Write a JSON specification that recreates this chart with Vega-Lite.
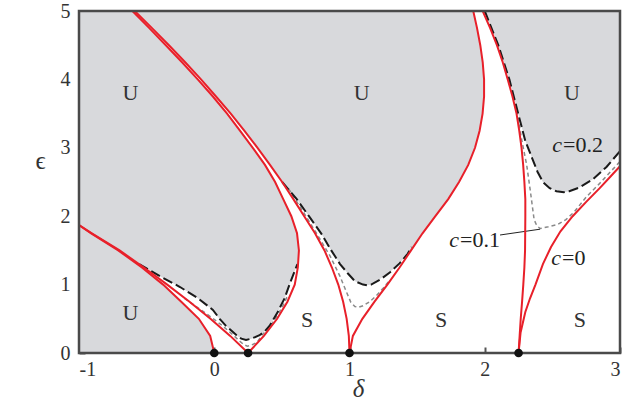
{
  "$schema": "https://vega.github.io/schema/vega-lite/v6.json",
  "width": 541,
  "height": 342,
  "autosize": "none",
  "padding": {"left": 79, "top": 11, "right": 10, "bottom": 53},
  "background": "white",
  "config": {
    "view": {"stroke": null},
    "axis": {"grid": false, "domain": false, "tickSize": -6, "tickColor": "#555", "tickWidth": 2, "zindex": 1, "labelExpr": "'' + datum.value",
      "labelFont": "Liberation Serif", "labelFontSize": 20, "labelColor": "#333",
      "titleFont": "Liberation Serif", "titleFontSize": 25, "titleFontStyle": "italic", "titleFontWeight": "normal", "titleColor": "#333"}
  },
  "datasets": {
    "frame": [{"top": 5, "bottom": 0, "left": -1, "right": 3}],
    "fill": [
      {"r": "L", "eps": 0, "lo": -1, "hi": 0},
      {"r": "L", "eps": 0.25, "lo": -1, "hi": -0.03},
      {"r": "L", "eps": 0.5, "lo": -1, "hi": -0.114},
      {"r": "L", "eps": 0.75, "lo": -1, "hi": -0.244},
      {"r": "L", "eps": 1.0, "lo": -1, "hi": -0.378},
      {"r": "L", "eps": 1.25, "lo": -1, "hi": -0.535},
      {"r": "L", "eps": 1.5, "lo": -1, "hi": -0.71},
      {"r": "L", "eps": 1.75, "lo": -1, "hi": -0.91},
      {"r": "L", "eps": 1.87, "lo": -1, "hi": -1.0},
      {"r": "T1", "eps": 0.19, "lo": 0.235, "hi": 0.235},
      {"r": "T1", "eps": 0.21, "lo": 0.2, "hi": 0.275},
      {"r": "T1", "eps": 0.26, "lo": 0.165, "hi": 0.335},
      {"r": "T1", "eps": 0.32, "lo": 0.13, "hi": 0.375},
      {"r": "T1", "eps": 0.4, "lo": 0.085, "hi": 0.41},
      {"r": "T1", "eps": 0.5, "lo": 0.04, "hi": 0.44},
      {"r": "T1", "eps": 0.58, "lo": 0.0, "hi": 0.464},
      {"r": "T1", "eps": 0.63, "lo": -0.01, "hi": 0.477},
      {"r": "T1", "eps": 0.8, "lo": -0.12, "hi": 0.52},
      {"r": "T1", "eps": 0.965, "lo": -0.253, "hi": 0.553},
      {"r": "T1", "eps": 1.02, "lo": -0.305, "hi": 0.56},
      {"r": "T1", "eps": 1.12, "lo": -0.4, "hi": 0.58},
      {"r": "T1", "eps": 1.21, "lo": -0.477, "hi": 0.597},
      {"r": "T1", "eps": 1.3, "lo": -0.555, "hi": 0.615},
      {"r": "T1", "eps": 1.5, "lo": -0.7, "hi": 0.626},
      {"r": "T1", "eps": 1.75, "lo": -0.905, "hi": 0.612},
      {"r": "T1", "eps": 1.87, "lo": -1.0, "hi": 0.59},
      {"r": "T1", "eps": 2.0, "lo": -1.0, "hi": 0.57},
      {"r": "T1", "eps": 2.25, "lo": -1.0, "hi": 0.51},
      {"r": "T1", "eps": 2.5, "lo": -1.0, "hi": 0.45},
      {"r": "T1", "eps": 2.75, "lo": -1.0, "hi": 0.375},
      {"r": "T1", "eps": 3.0, "lo": -1.0, "hi": 0.285},
      {"r": "T1", "eps": 3.25, "lo": -1.0, "hi": 0.19},
      {"r": "T1", "eps": 3.5, "lo": -1.0, "hi": 0.095},
      {"r": "T1", "eps": 3.75, "lo": -1.0, "hi": -0.01},
      {"r": "T1", "eps": 4.0, "lo": -1.0, "hi": -0.122},
      {"r": "T1", "eps": 4.25, "lo": -1.0, "hi": -0.238},
      {"r": "T1", "eps": 4.5, "lo": -1.0, "hi": -0.358},
      {"r": "T1", "eps": 4.75, "lo": -1.0, "hi": -0.48},
      {"r": "T1", "eps": 5.0, "lo": -1.0, "hi": -0.605},
      {"r": "T2", "eps": 0.99, "lo": 1.13, "hi": 1.13},
      {"r": "T2", "eps": 1.0, "lo": 1.1, "hi": 1.16},
      {"r": "T2", "eps": 1.05, "lo": 1.04, "hi": 1.2},
      {"r": "T2", "eps": 1.17, "lo": 0.985, "hi": 1.29},
      {"r": "T2", "eps": 1.3, "lo": 0.93, "hi": 1.365},
      {"r": "T2", "eps": 1.45, "lo": 0.88, "hi": 1.43},
      {"r": "T2", "eps": 1.5, "lo": 0.865, "hi": 1.455},
      {"r": "T2", "eps": 1.75, "lo": 0.79, "hi": 1.54},
      {"r": "T2", "eps": 2.0, "lo": 0.7, "hi": 1.635},
      {"r": "T2", "eps": 2.25, "lo": 0.61, "hi": 1.73},
      {"r": "T2", "eps": 2.5, "lo": 0.502, "hi": 1.81},
      {"r": "T2", "eps": 2.75, "lo": 0.412, "hi": 1.878},
      {"r": "T2", "eps": 3.0, "lo": 0.32, "hi": 1.928},
      {"r": "T2", "eps": 3.25, "lo": 0.222, "hi": 1.962},
      {"r": "T2", "eps": 3.5, "lo": 0.122, "hi": 1.984},
      {"r": "T2", "eps": 3.75, "lo": 0.013, "hi": 1.995},
      {"r": "T2", "eps": 4.0, "lo": -0.098, "hi": 1.995},
      {"r": "T2", "eps": 4.25, "lo": -0.215, "hi": 1.985},
      {"r": "T2", "eps": 4.5, "lo": -0.335, "hi": 1.967},
      {"r": "T2", "eps": 4.75, "lo": -0.46, "hi": 1.943},
      {"r": "T2", "eps": 5.0, "lo": -0.588, "hi": 1.915},
      {"r": "T3", "eps": 2.35, "lo": 2.585, "hi": 2.585},
      {"r": "T3", "eps": 2.365, "lo": 2.53, "hi": 2.625},
      {"r": "T3", "eps": 2.41, "lo": 2.48, "hi": 2.69},
      {"r": "T3", "eps": 2.5, "lo": 2.43, "hi": 2.765},
      {"r": "T3", "eps": 2.54, "lo": 2.419, "hi": 2.8},
      {"r": "T3", "eps": 2.65, "lo": 2.39, "hi": 2.86},
      {"r": "T3", "eps": 2.72, "lo": 2.376, "hi": 2.9},
      {"r": "T3", "eps": 2.85, "lo": 2.35, "hi": 2.957},
      {"r": "T3", "eps": 2.95, "lo": 2.33, "hi": 3.0},
      {"r": "T3", "eps": 3.1, "lo": 2.3, "hi": 3.0},
      {"r": "T3", "eps": 3.5, "lo": 2.247, "hi": 3.0},
      {"r": "T3", "eps": 4.0, "lo": 2.182, "hi": 3.0},
      {"r": "T3", "eps": 4.5, "lo": 2.1, "hi": 3.0},
      {"r": "T3", "eps": 5.0, "lo": 2.0, "hi": 3.0}
    ],
    "curves": [
      {"k": "red", "c": "a0", "i": 0, "d": 0, "e": 0},
      {"k": "red", "c": "a0", "i": 1, "d": -0.03, "e": 0.25},
      {"k": "red", "c": "a0", "i": 2, "d": -0.114, "e": 0.5},
      {"k": "red", "c": "a0", "i": 3, "d": -0.244, "e": 0.75},
      {"k": "red", "c": "a0", "i": 4, "d": -0.378, "e": 1.0},
      {"k": "red", "c": "a0", "i": 5, "d": -0.535, "e": 1.25},
      {"k": "red", "c": "a0", "i": 6, "d": -0.71, "e": 1.5},
      {"k": "red", "c": "a0", "i": 7, "d": -0.91, "e": 1.75},
      {"k": "red", "c": "a0", "i": 8, "d": -1.0, "e": 1.87},
      {"k": "red", "c": "a0", "i": 9, "d": -1.05, "e": 1.93},
      {"k": "red", "c": "b1", "i": 0, "d": 0.25, "e": 0},
      {"k": "red", "c": "b1", "i": 1, "d": 0.118, "e": 0.25},
      {"k": "red", "c": "b1", "i": 2, "d": -0.028, "e": 0.5},
      {"k": "red", "c": "b1", "i": 3, "d": -0.183, "e": 0.75},
      {"k": "red", "c": "b1", "i": 4, "d": -0.348, "e": 1.0},
      {"k": "red", "c": "b1", "i": 5, "d": -0.52, "e": 1.25},
      {"k": "red", "c": "b1", "i": 6, "d": -0.7, "e": 1.5},
      {"k": "red", "c": "b1", "i": 7, "d": -0.905, "e": 1.75},
      {"k": "red", "c": "b1", "i": 8, "d": -1.0, "e": 1.87},
      {"k": "red", "c": "b1", "i": 9, "d": -1.05, "e": 1.93},
      {"k": "red", "c": "a1", "i": 0, "d": 0.25, "e": 0},
      {"k": "red", "c": "a1", "i": 1, "d": 0.367, "e": 0.25},
      {"k": "red", "c": "a1", "i": 2, "d": 0.465, "e": 0.5},
      {"k": "red", "c": "a1", "i": 3, "d": 0.541, "e": 0.75},
      {"k": "red", "c": "a1", "i": 4, "d": 0.595, "e": 1.0},
      {"k": "red", "c": "a1", "i": 5, "d": 0.618, "e": 1.25},
      {"k": "red", "c": "a1", "i": 6, "d": 0.626, "e": 1.5},
      {"k": "red", "c": "a1", "i": 7, "d": 0.612, "e": 1.75},
      {"k": "red", "c": "a1", "i": 8, "d": 0.57, "e": 2.0},
      {"k": "red", "c": "a1", "i": 9, "d": 0.51, "e": 2.25},
      {"k": "red", "c": "a1", "i": 10, "d": 0.45, "e": 2.5},
      {"k": "red", "c": "a1", "i": 11, "d": 0.375, "e": 2.75},
      {"k": "red", "c": "a1", "i": 12, "d": 0.285, "e": 3.0},
      {"k": "red", "c": "a1", "i": 13, "d": 0.19, "e": 3.25},
      {"k": "red", "c": "a1", "i": 14, "d": 0.095, "e": 3.5},
      {"k": "red", "c": "a1", "i": 15, "d": -0.01, "e": 3.75},
      {"k": "red", "c": "a1", "i": 16, "d": -0.122, "e": 4.0},
      {"k": "red", "c": "a1", "i": 17, "d": -0.238, "e": 4.25},
      {"k": "red", "c": "a1", "i": 18, "d": -0.358, "e": 4.5},
      {"k": "red", "c": "a1", "i": 19, "d": -0.48, "e": 4.75},
      {"k": "red", "c": "a1", "i": 20, "d": -0.605, "e": 5.0},
      {"k": "red", "c": "b2", "i": 0, "d": 1.0, "e": 0},
      {"k": "red", "c": "b2", "i": 1, "d": 0.995, "e": 0.25},
      {"k": "red", "c": "b2", "i": 2, "d": 0.979, "e": 0.5},
      {"k": "red", "c": "b2", "i": 3, "d": 0.953, "e": 0.75},
      {"k": "red", "c": "b2", "i": 4, "d": 0.917, "e": 1.0},
      {"k": "red", "c": "b2", "i": 5, "d": 0.87, "e": 1.25},
      {"k": "red", "c": "b2", "i": 6, "d": 0.815, "e": 1.5},
      {"k": "red", "c": "b2", "i": 7, "d": 0.745, "e": 1.75},
      {"k": "red", "c": "b2", "i": 8, "d": 0.665, "e": 2.0},
      {"k": "red", "c": "b2", "i": 9, "d": 0.585, "e": 2.25},
      {"k": "red", "c": "b2", "i": 10, "d": 0.502, "e": 2.5},
      {"k": "red", "c": "b2", "i": 11, "d": 0.412, "e": 2.75},
      {"k": "red", "c": "b2", "i": 12, "d": 0.32, "e": 3.0},
      {"k": "red", "c": "b2", "i": 13, "d": 0.222, "e": 3.25},
      {"k": "red", "c": "b2", "i": 14, "d": 0.122, "e": 3.5},
      {"k": "red", "c": "b2", "i": 15, "d": 0.013, "e": 3.75},
      {"k": "red", "c": "b2", "i": 16, "d": -0.098, "e": 4.0},
      {"k": "red", "c": "b2", "i": 17, "d": -0.215, "e": 4.25},
      {"k": "red", "c": "b2", "i": 18, "d": -0.335, "e": 4.5},
      {"k": "red", "c": "b2", "i": 19, "d": -0.46, "e": 4.75},
      {"k": "red", "c": "b2", "i": 20, "d": -0.588, "e": 5.0},
      {"k": "red", "c": "a2", "i": 0, "d": 1.0, "e": 0},
      {"k": "red", "c": "a2", "i": 1, "d": 1.025, "e": 0.25},
      {"k": "red", "c": "a2", "i": 2, "d": 1.095, "e": 0.5},
      {"k": "red", "c": "a2", "i": 3, "d": 1.185, "e": 0.75},
      {"k": "red", "c": "a2", "i": 4, "d": 1.28, "e": 1.0},
      {"k": "red", "c": "a2", "i": 5, "d": 1.37, "e": 1.25},
      {"k": "red", "c": "a2", "i": 6, "d": 1.455, "e": 1.5},
      {"k": "red", "c": "a2", "i": 7, "d": 1.54, "e": 1.75},
      {"k": "red", "c": "a2", "i": 8, "d": 1.635, "e": 2.0},
      {"k": "red", "c": "a2", "i": 9, "d": 1.73, "e": 2.25},
      {"k": "red", "c": "a2", "i": 10, "d": 1.81, "e": 2.5},
      {"k": "red", "c": "a2", "i": 11, "d": 1.878, "e": 2.75},
      {"k": "red", "c": "a2", "i": 12, "d": 1.928, "e": 3.0},
      {"k": "red", "c": "a2", "i": 13, "d": 1.962, "e": 3.25},
      {"k": "red", "c": "a2", "i": 14, "d": 1.984, "e": 3.5},
      {"k": "red", "c": "a2", "i": 15, "d": 1.995, "e": 3.75},
      {"k": "red", "c": "a2", "i": 16, "d": 1.995, "e": 4.0},
      {"k": "red", "c": "a2", "i": 17, "d": 1.985, "e": 4.25},
      {"k": "red", "c": "a2", "i": 18, "d": 1.967, "e": 4.5},
      {"k": "red", "c": "a2", "i": 19, "d": 1.943, "e": 4.75},
      {"k": "red", "c": "a2", "i": 20, "d": 1.915, "e": 5.0},
      {"k": "red", "c": "b3", "i": 0, "d": 2.25, "e": 0},
      {"k": "red", "c": "b3", "i": 1, "d": 2.258, "e": 0.25},
      {"k": "red", "c": "b3", "i": 2, "d": 2.266, "e": 0.5},
      {"k": "red", "c": "b3", "i": 3, "d": 2.276, "e": 0.75},
      {"k": "red", "c": "b3", "i": 4, "d": 2.285, "e": 1.0},
      {"k": "red", "c": "b3", "i": 5, "d": 2.293, "e": 1.25},
      {"k": "red", "c": "b3", "i": 6, "d": 2.298, "e": 1.5},
      {"k": "red", "c": "b3", "i": 7, "d": 2.3, "e": 2.0},
      {"k": "red", "c": "b3", "i": 8, "d": 2.3, "e": 2.25},
      {"k": "red", "c": "b3", "i": 9, "d": 2.293, "e": 2.5},
      {"k": "red", "c": "b3", "i": 10, "d": 2.284, "e": 2.75},
      {"k": "red", "c": "b3", "i": 11, "d": 2.272, "e": 3.0},
      {"k": "red", "c": "b3", "i": 12, "d": 2.255, "e": 3.25},
      {"k": "red", "c": "b3", "i": 13, "d": 2.235, "e": 3.5},
      {"k": "red", "c": "b3", "i": 14, "d": 2.205, "e": 3.75},
      {"k": "red", "c": "b3", "i": 15, "d": 2.17, "e": 4.0},
      {"k": "red", "c": "b3", "i": 16, "d": 2.133, "e": 4.25},
      {"k": "red", "c": "b3", "i": 17, "d": 2.09, "e": 4.5},
      {"k": "red", "c": "b3", "i": 18, "d": 2.04, "e": 4.75},
      {"k": "red", "c": "b3", "i": 19, "d": 1.985, "e": 5.0},
      {"k": "red", "c": "a3", "i": 0, "d": 2.25, "e": 0},
      {"k": "red", "c": "a3", "i": 1, "d": 2.265, "e": 0.3},
      {"k": "red", "c": "a3", "i": 2, "d": 2.3, "e": 0.6},
      {"k": "red", "c": "a3", "i": 3, "d": 2.335, "e": 0.8},
      {"k": "red", "c": "a3", "i": 4, "d": 2.375, "e": 1.0},
      {"k": "red", "c": "a3", "i": 5, "d": 2.43, "e": 1.3},
      {"k": "red", "c": "a3", "i": 6, "d": 2.49, "e": 1.55},
      {"k": "red", "c": "a3", "i": 7, "d": 2.56, "e": 1.78},
      {"k": "red", "c": "a3", "i": 8, "d": 2.65, "e": 2.0},
      {"k": "red", "c": "a3", "i": 9, "d": 2.75, "e": 2.21},
      {"k": "red", "c": "a3", "i": 10, "d": 2.85, "e": 2.41},
      {"k": "red", "c": "a3", "i": 11, "d": 2.93, "e": 2.58},
      {"k": "red", "c": "a3", "i": 12, "d": 3.0, "e": 2.73},
      {"k": "red", "c": "a3", "i": 13, "d": 3.03, "e": 2.79},
      {"k": "c02", "c": "t1", "i": 0, "d": -0.555, "e": 1.3},
      {"k": "c02", "c": "t1", "i": 1, "d": -0.4, "e": 1.12},
      {"k": "c02", "c": "t1", "i": 2, "d": -0.253, "e": 0.965},
      {"k": "c02", "c": "t1", "i": 3, "d": -0.12, "e": 0.8},
      {"k": "c02", "c": "t1", "i": 4, "d": -0.01, "e": 0.63},
      {"k": "c02", "c": "t1", "i": 5, "d": 0.04, "e": 0.5},
      {"k": "c02", "c": "t1", "i": 6, "d": 0.085, "e": 0.4},
      {"k": "c02", "c": "t1", "i": 7, "d": 0.13, "e": 0.32},
      {"k": "c02", "c": "t1", "i": 8, "d": 0.165, "e": 0.26},
      {"k": "c02", "c": "t1", "i": 9, "d": 0.2, "e": 0.21},
      {"k": "c02", "c": "t1", "i": 10, "d": 0.235, "e": 0.19},
      {"k": "c02", "c": "t1", "i": 11, "d": 0.275, "e": 0.21},
      {"k": "c02", "c": "t1", "i": 12, "d": 0.335, "e": 0.26},
      {"k": "c02", "c": "t1", "i": 13, "d": 0.375, "e": 0.32},
      {"k": "c02", "c": "t1", "i": 14, "d": 0.41, "e": 0.4},
      {"k": "c02", "c": "t1", "i": 15, "d": 0.44, "e": 0.5},
      {"k": "c02", "c": "t1", "i": 16, "d": 0.464, "e": 0.58},
      {"k": "c02", "c": "t1", "i": 17, "d": 0.52, "e": 0.8},
      {"k": "c02", "c": "t1", "i": 18, "d": 0.56, "e": 1.02},
      {"k": "c02", "c": "t1", "i": 19, "d": 0.597, "e": 1.21},
      {"k": "c02", "c": "t1", "i": 20, "d": 0.615, "e": 1.3},
      {"k": "c02", "c": "t2", "i": 0, "d": 0.502, "e": 2.5},
      {"k": "c02", "c": "t2", "i": 1, "d": 0.61, "e": 2.25},
      {"k": "c02", "c": "t2", "i": 2, "d": 0.7, "e": 2.0},
      {"k": "c02", "c": "t2", "i": 3, "d": 0.79, "e": 1.75},
      {"k": "c02", "c": "t2", "i": 4, "d": 0.865, "e": 1.5},
      {"k": "c02", "c": "t2", "i": 5, "d": 0.93, "e": 1.3},
      {"k": "c02", "c": "t2", "i": 6, "d": 0.985, "e": 1.17},
      {"k": "c02", "c": "t2", "i": 7, "d": 1.04, "e": 1.05},
      {"k": "c02", "c": "t2", "i": 8, "d": 1.1, "e": 1.0},
      {"k": "c02", "c": "t2", "i": 9, "d": 1.13, "e": 0.99},
      {"k": "c02", "c": "t2", "i": 10, "d": 1.16, "e": 1.0},
      {"k": "c02", "c": "t2", "i": 11, "d": 1.225, "e": 1.07},
      {"k": "c02", "c": "t2", "i": 12, "d": 1.3, "e": 1.18},
      {"k": "c02", "c": "t2", "i": 13, "d": 1.37, "e": 1.31},
      {"k": "c02", "c": "t2", "i": 14, "d": 1.43, "e": 1.45},
      {"k": "c02", "c": "t2", "i": 15, "d": 1.46, "e": 1.55},
      {"k": "c02", "c": "t3", "i": 0, "d": 2.0, "e": 5.0},
      {"k": "c02", "c": "t3", "i": 1, "d": 2.1, "e": 4.5},
      {"k": "c02", "c": "t3", "i": 2, "d": 2.182, "e": 4.0},
      {"k": "c02", "c": "t3", "i": 3, "d": 2.247, "e": 3.5},
      {"k": "c02", "c": "t3", "i": 4, "d": 2.3, "e": 3.1},
      {"k": "c02", "c": "t3", "i": 5, "d": 2.35, "e": 2.85},
      {"k": "c02", "c": "t3", "i": 6, "d": 2.39, "e": 2.65},
      {"k": "c02", "c": "t3", "i": 7, "d": 2.43, "e": 2.5},
      {"k": "c02", "c": "t3", "i": 8, "d": 2.48, "e": 2.41},
      {"k": "c02", "c": "t3", "i": 9, "d": 2.53, "e": 2.365},
      {"k": "c02", "c": "t3", "i": 10, "d": 2.585, "e": 2.35},
      {"k": "c02", "c": "t3", "i": 11, "d": 2.625, "e": 2.365},
      {"k": "c02", "c": "t3", "i": 12, "d": 2.7, "e": 2.42},
      {"k": "c02", "c": "t3", "i": 13, "d": 2.8, "e": 2.54},
      {"k": "c02", "c": "t3", "i": 14, "d": 2.9, "e": 2.72},
      {"k": "c02", "c": "t3", "i": 15, "d": 3.0, "e": 2.95},
      {"k": "c02", "c": "t3", "i": 16, "d": 3.02, "e": 3.0},
      {"k": "c01", "c": "t1", "i": 0, "d": -0.22, "e": 0.8},
      {"k": "c01", "c": "t1", "i": 1, "d": -0.12, "e": 0.66},
      {"k": "c01", "c": "t1", "i": 2, "d": -0.02, "e": 0.52},
      {"k": "c01", "c": "t1", "i": 3, "d": 0.06, "e": 0.4},
      {"k": "c01", "c": "t1", "i": 4, "d": 0.13, "e": 0.28},
      {"k": "c01", "c": "t1", "i": 5, "d": 0.19, "e": 0.17},
      {"k": "c01", "c": "t1", "i": 6, "d": 0.22, "e": 0.12},
      {"k": "c01", "c": "t1", "i": 7, "d": 0.245, "e": 0.1},
      {"k": "c01", "c": "t1", "i": 8, "d": 0.27, "e": 0.11},
      {"k": "c01", "c": "t1", "i": 9, "d": 0.3, "e": 0.14},
      {"k": "c01", "c": "t1", "i": 10, "d": 0.325, "e": 0.18},
      {"k": "c01", "c": "t1", "i": 11, "d": 0.352, "e": 0.26},
      {"k": "c01", "c": "t1", "i": 12, "d": 0.39, "e": 0.34},
      {"k": "c01", "c": "t1", "i": 13, "d": 0.43, "e": 0.44},
      {"k": "c01", "c": "t1", "i": 14, "d": 0.47, "e": 0.56},
      {"k": "c01", "c": "t1", "i": 15, "d": 0.51, "e": 0.7},
      {"k": "c01", "c": "t1", "i": 16, "d": 0.545, "e": 0.85},
      {"k": "c01", "c": "t2", "i": 0, "d": 0.55, "e": 2.4},
      {"k": "c01", "c": "t2", "i": 1, "d": 0.64, "e": 2.12},
      {"k": "c01", "c": "t2", "i": 2, "d": 0.75, "e": 1.77},
      {"k": "c01", "c": "t2", "i": 3, "d": 0.856, "e": 1.42},
      {"k": "c01", "c": "t2", "i": 4, "d": 0.93, "e": 1.12},
      {"k": "c01", "c": "t2", "i": 5, "d": 0.98, "e": 0.88},
      {"k": "c01", "c": "t2", "i": 6, "d": 1.01, "e": 0.74},
      {"k": "c01", "c": "t2", "i": 7, "d": 1.04, "e": 0.68},
      {"k": "c01", "c": "t2", "i": 8, "d": 1.07, "e": 0.67},
      {"k": "c01", "c": "t2", "i": 9, "d": 1.1, "e": 0.69},
      {"k": "c01", "c": "t2", "i": 10, "d": 1.15, "e": 0.75},
      {"k": "c01", "c": "t2", "i": 11, "d": 1.2, "e": 0.84},
      {"k": "c01", "c": "t2", "i": 12, "d": 1.25, "e": 0.95},
      {"k": "c01", "c": "t2", "i": 13, "d": 1.3, "e": 1.07},
      {"k": "c01", "c": "t3", "i": 0, "d": 1.995, "e": 5.0},
      {"k": "c01", "c": "t3", "i": 1, "d": 2.095, "e": 4.5},
      {"k": "c01", "c": "t3", "i": 2, "d": 2.176, "e": 4.0},
      {"k": "c01", "c": "t3", "i": 3, "d": 2.24, "e": 3.5},
      {"k": "c01", "c": "t3", "i": 4, "d": 2.275, "e": 3.1},
      {"k": "c01", "c": "t3", "i": 5, "d": 2.31, "e": 2.75},
      {"k": "c01", "c": "t3", "i": 6, "d": 2.335, "e": 2.4},
      {"k": "c01", "c": "t3", "i": 7, "d": 2.355, "e": 2.1},
      {"k": "c01", "c": "t3", "i": 8, "d": 2.365, "e": 1.95},
      {"k": "c01", "c": "t3", "i": 9, "d": 2.385, "e": 1.86},
      {"k": "c01", "c": "t3", "i": 10, "d": 2.41, "e": 1.82},
      {"k": "c01", "c": "t3", "i": 11, "d": 2.47, "e": 1.845},
      {"k": "c01", "c": "t3", "i": 12, "d": 2.54, "e": 1.88},
      {"k": "c01", "c": "t3", "i": 13, "d": 2.6, "e": 1.95},
      {"k": "c01", "c": "t3", "i": 14, "d": 2.66, "e": 2.06},
      {"k": "c01", "c": "t3", "i": 15, "d": 2.75, "e": 2.28},
      {"k": "c01", "c": "t3", "i": 16, "d": 2.85, "e": 2.48},
      {"k": "c01", "c": "t3", "i": 17, "d": 2.93, "e": 2.65},
      {"k": "c01", "c": "t3", "i": 18, "d": 3.0, "e": 2.8},
      {"k": "c01", "c": "t3", "i": 19, "d": 3.02, "e": 2.84},
      {"k": "lead", "c": "lead", "i": 0, "d": 2.113, "e": 1.725},
      {"k": "lead", "c": "lead", "i": 1, "d": 2.409, "e": 1.81}
    ],
    "dots": [
      {"d": 0, "e": 0}, {"d": 0.25, "e": 0}, {"d": 1, "e": 0}, {"d": 2.25, "e": 0}
    ],
    "labels": [
      {"t": "U", "d": -0.62, "e": 3.8},
      {"t": "U", "d": 1.09, "e": 3.8},
      {"t": "U", "d": 2.645, "e": 3.8},
      {"t": "U", "d": -0.62, "e": 0.585},
      {"t": "S", "d": 0.686, "e": 0.48},
      {"t": "S", "d": 1.677, "e": 0.48},
      {"t": "S", "d": 2.704, "e": 0.48}
    ],
    "clabels": [
      {"c": "c", "rest": "=0.2", "d": 2.579, "e": 2.94},
      {"c": "c", "rest": "=0.1", "d": 1.817, "e": 1.55},
      {"c": "c", "rest": "=0", "d": 2.572, "e": 1.29}
    ]
  },
  "layer": [
    {
      "data": {"name": "fill"},
      "mark": {"type": "area", "orient": "horizontal", "color": "#d8d9dc", "clip": true},
      "encoding": {
        "y": {"field": "eps", "type": "quantitative", "scale": {"domain": [0, 5], "nice": false}, "axis": {"values": [0, 1, 2, 3, 4, 5], "title": "ϵ", "titleAngle": 0, "titleX": -39, "titleY": 149, "titleAlign": "center", "titleBaseline": "middle", "titleFontStyle": "normal", "labelPadding": 15}},
        "x": {"field": "lo", "type": "quantitative", "stack": null, "scale": {"domain": [-1, 3], "nice": false}, "axis": {"values": [-1, 0, 1, 2, 3], "title": "δ", "titleX": 279, "titleY": 35, "titleBaseline": "middle", "labelPadding": 12}},
        "x2": {"field": "hi"},
        "detail": {"field": "r"}
      }
    },
    {
      "data": {"name": "curves"},
      "transform": [{"filter": "datum.k == 'c01'"}],
      "mark": {"type": "line", "color": "#8a8a8a", "strokeWidth": 1.5, "strokeDash": [4, 3], "clip": true},
      "encoding": {
        "x": {"field": "d", "type": "quantitative"},
        "y": {"field": "e", "type": "quantitative"},
        "detail": {"field": "c"},
        "order": {"field": "i", "type": "quantitative"}
      }
    },
    {
      "data": {"name": "curves"},
      "transform": [{"filter": "datum.k == 'c02'"}],
      "mark": {"type": "line", "color": "#1a1a1a", "strokeWidth": 2, "strokeDash": [10, 4], "clip": true},
      "encoding": {
        "x": {"field": "d", "type": "quantitative"},
        "y": {"field": "e", "type": "quantitative"},
        "detail": {"field": "c"},
        "order": {"field": "i", "type": "quantitative"}
      }
    },
    {
      "data": {"name": "curves"},
      "transform": [{"filter": "datum.k == 'lead'"}],
      "mark": {"type": "line", "color": "#222", "strokeWidth": 1, "clip": true},
      "encoding": {
        "x": {"field": "d", "type": "quantitative"},
        "y": {"field": "e", "type": "quantitative"},
        "order": {"field": "i", "type": "quantitative"}
      }
    },
    {
      "data": {"name": "curves"},
      "transform": [{"filter": "datum.k == 'red'"}],
      "mark": {"type": "line", "color": "#e8202a", "strokeWidth": 2, "clip": true},
      "encoding": {
        "x": {"field": "d", "type": "quantitative"},
        "y": {"field": "e", "type": "quantitative"},
        "detail": {"field": "c"},
        "order": {"field": "i", "type": "quantitative"}
      }
    },
    {
      "data": {"name": "frame"},
      "mark": {"type": "rect", "fill": null, "fillOpacity": 0, "stroke": "#4a4a4a", "strokeWidth": 2.5},
      "encoding": {
        "x": {"field": "left", "type": "quantitative"},
        "x2": {"field": "right"},
        "y": {"field": "bottom", "type": "quantitative"},
        "y2": {"field": "top"}
      }
    },
    {
      "data": {"name": "dots"},
      "mark": {"type": "circle", "color": "#111", "size": 75, "opacity": 1},
      "encoding": {
        "x": {"field": "d", "type": "quantitative"},
        "y": {"field": "e", "type": "quantitative"}
      }
    },
    {
      "data": {"name": "labels"},
      "mark": {"type": "text", "font": "Liberation Serif", "fontSize": 22, "color": "#333", "align": "center", "baseline": "middle"},
      "encoding": {
        "x": {"field": "d", "type": "quantitative"},
        "y": {"field": "e", "type": "quantitative"},
        "text": {"field": "t"}
      }
    },
    {
      "data": {"name": "clabels"},
      "mark": {"type": "text", "font": "Liberation Serif", "fontSize": 22, "fontStyle": "italic", "color": "#222", "align": "right", "baseline": "alphabetic", "dx": -1},
      "encoding": {
        "x": {"field": "d", "type": "quantitative"},
        "y": {"field": "e", "type": "quantitative"},
        "text": {"field": "c"}
      }
    },
    {
      "data": {"name": "clabels"},
      "mark": {"type": "text", "font": "Liberation Serif", "fontSize": 22, "color": "#222", "align": "left", "baseline": "alphabetic"},
      "encoding": {
        "x": {"field": "d", "type": "quantitative"},
        "y": {"field": "e", "type": "quantitative"},
        "text": {"field": "rest"}
      }
    }
  ]
}
